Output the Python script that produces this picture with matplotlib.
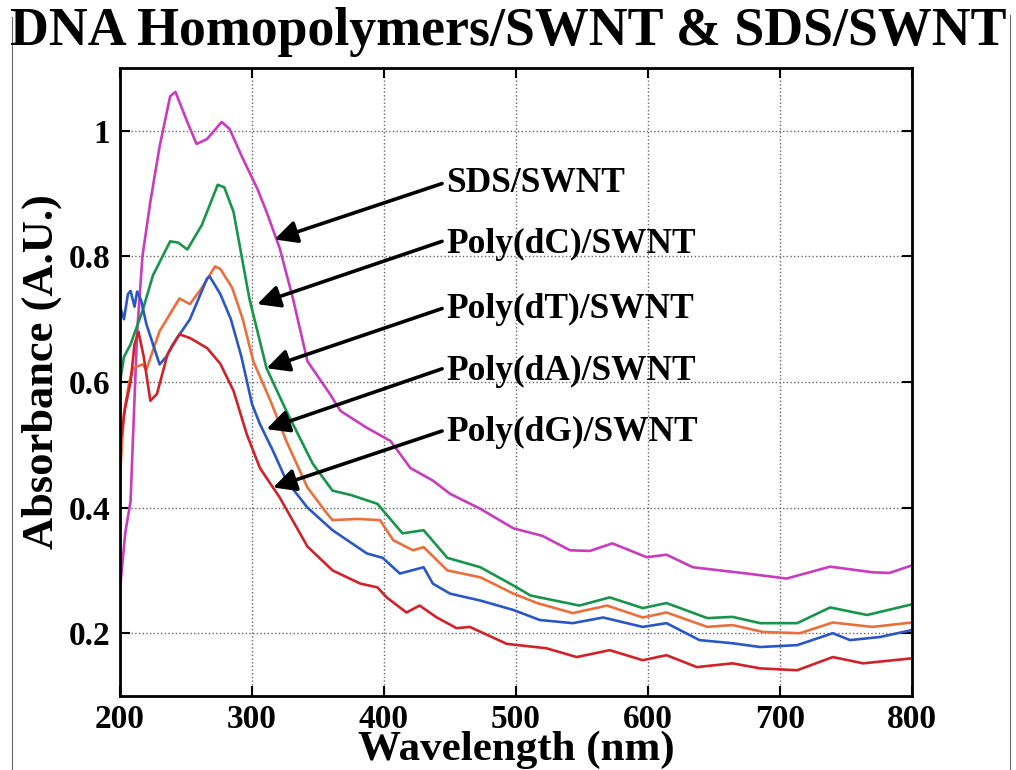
import numpy as np
import matplotlib
matplotlib.use("Agg")
import matplotlib.pyplot as plt
from matplotlib.lines import Line2D

plt.rcParams['font.family'] = ['Liberation Serif', 'DejaVu Serif']
plt.rcParams['font.weight'] = 'bold'

# spectra (wavelength nm, absorbance A.U.)
sds_x = [200, 204, 208, 210, 213, 217, 223, 230, 238, 242, 251, 258, 266, 277, 283, 293,
         304, 311, 321, 331, 342, 359, 367, 387, 405, 420, 437, 450, 473, 498, 520, 541,
         556, 573, 599, 614, 634, 675, 705, 738, 770, 783, 800]
sds_y = [0.27, 0.36, 0.41, 0.52, 0.68, 0.80, 0.887, 0.975, 1.055, 1.062, 1.014, 0.979,
         0.987, 1.014, 1.003, 0.956, 0.908, 0.871, 0.813, 0.733, 0.633, 0.581, 0.554, 0.527,
         0.506, 0.463, 0.443, 0.422, 0.398, 0.367, 0.355, 0.332, 0.331, 0.343, 0.321, 0.325,
         0.305, 0.295, 0.287, 0.306, 0.297, 0.296, 0.308]

dc_x = [200, 203, 208, 217, 225, 238, 244, 251, 262, 274, 279, 286, 298, 311, 326, 346,
        361, 375, 395, 414, 430, 448, 473, 498, 511, 548, 571, 596, 614, 645, 664, 685,
        713, 738, 766, 800]
dc_y = [0.60, 0.64, 0.66, 0.713, 0.77, 0.824, 0.822, 0.811, 0.85, 0.914, 0.91, 0.871,
        0.733, 0.622, 0.554, 0.47, 0.427, 0.42, 0.406, 0.359, 0.364, 0.32, 0.305, 0.276,
        0.26, 0.244, 0.257, 0.24, 0.248, 0.224, 0.226, 0.216, 0.216, 0.241, 0.229, 0.246]

dt_x = [200, 203, 207, 210, 217, 220, 230, 245, 253, 262, 272, 276, 285, 293, 301, 314,
        326, 342, 357, 361, 380, 397, 407, 422, 430, 448, 473, 498, 516, 543, 569, 596,
        614, 645, 664, 687, 715, 740, 770, 800]
dt_y = [0.45, 0.55, 0.60, 0.622, 0.628, 0.62, 0.681, 0.733, 0.724, 0.75, 0.784, 0.78,
        0.75, 0.70, 0.633, 0.57, 0.506, 0.432, 0.39, 0.38, 0.382, 0.38, 0.348, 0.332,
        0.337, 0.30, 0.289, 0.263, 0.248, 0.232, 0.244, 0.225, 0.233, 0.21, 0.213, 0.202,
        0.20, 0.217, 0.21, 0.217]

da_x = [200, 203, 206, 208, 211, 213, 216, 220, 225, 230, 235, 240, 253, 266, 268, 276,
        284, 292, 300, 306, 316, 326, 342, 361, 387, 399, 412, 430, 437, 450, 473, 498,
        518, 543, 566, 596, 614, 639, 664, 685, 713, 740, 753, 776, 800]
da_y = [0.72, 0.70, 0.74, 0.745, 0.72, 0.744, 0.73, 0.692, 0.66, 0.628, 0.64, 0.66,
        0.70, 0.765, 0.768, 0.74, 0.70, 0.64, 0.565, 0.533, 0.49, 0.443, 0.40, 0.364,
        0.327, 0.32, 0.295, 0.305, 0.279, 0.263, 0.252, 0.237, 0.221, 0.216, 0.225, 0.21,
        0.216, 0.189, 0.184, 0.178, 0.181, 0.20, 0.189, 0.194, 0.205]

dg_x = [200, 204, 208, 211, 214, 218, 223, 228, 236, 245, 253, 266, 276, 286, 296, 306,
        321, 342, 361, 382, 395, 402, 417, 427, 440, 455, 465, 493, 523, 546, 571, 596,
        614, 637, 664, 685, 713, 740, 763, 800]
dg_y = [0.50, 0.56, 0.60, 0.66, 0.68, 0.64, 0.57, 0.581, 0.644, 0.676, 0.67, 0.654,
        0.629, 0.586, 0.517, 0.463, 0.416, 0.338, 0.30, 0.279, 0.273, 0.257, 0.233, 0.244,
        0.225, 0.208, 0.21, 0.183, 0.176, 0.162, 0.173, 0.157, 0.165, 0.146, 0.152, 0.144,
        0.141, 0.162, 0.152, 0.16]

labels = ['SDS/SWNT', 'Poly(dC)/SWNT', 'Poly(dT)/SWNT', 'Poly(dA)/SWNT', 'Poly(dG)/SWNT']
colors = ['#C83CBE', '#17954A', '#E9703C', '#2B57C4', '#CF2229']
# label anchor (text start) and arrow head, in data coords
label_pos = [(447, 0.916), (447, 0.819), (447, 0.716), (447, 0.617), (447, 0.519)]
arrow_tail = [(444, 0.916), (444, 0.824), (444, 0.717), (444, 0.621), (444, 0.522)]
arrow_head = [(317, 0.827), (304, 0.724), (311, 0.622), (311, 0.525), (316, 0.432)]

fig = plt.figure(figsize=(10.16, 7.70), dpi=100)
ax = fig.add_axes([120/1016, 1-696/770, 792/1016, 628/770])

series = [(sds_x, sds_y), (dc_x, dc_y), (dt_x, dt_y), (da_x, da_y), (dg_x, dg_y)]
for (xs, ys), c in zip(series, colors):
    ax.plot(xs, ys, color=c, lw=1.9)

ax.set_xlim(200, 800)
ax.set_ylim(0.1, 1.1)
ax.set_xticks([200, 300, 400, 500, 600, 700, 800])
ax.set_yticks([0.2, 0.4, 0.6, 0.8, 1.0])
ax.set_yticklabels(['0.2', '0.4', '0.6', '0.8', '1'])
ax.grid(True, ls=':', color='#666666', lw=1.0)
ax.tick_params(direction='in', length=7, width=1.5, top=True, right=True,
               labelsize=24, pad=7)
ax.tick_params(axis='x', pad=6)
for lab in ax.get_xticklabels() + ax.get_yticklabels():
    lab.set_fontweight('bold')
for sp in ax.spines.values():
    sp.set_linewidth(2)

for lab, pos, tail, head in zip(labels, label_pos, arrow_tail, arrow_head):
    ax.annotate('', xy=head, xytext=tail,
                arrowprops=dict(arrowstyle='-|>', color='k', lw=2.6,
                                mutation_scale=34, shrinkA=0, shrinkB=0))
    ax.text(pos[0], pos[1], lab, fontsize=25.5, fontweight='bold',
            ha='left', va='center')

ax.set_xlabel('Wavelength (nm)', fontsize=31, fontweight='bold')
ax.xaxis.label.set_va('baseline')
ax.xaxis.set_label_coords(0.5, -(760-696)/628)
ax.set_ylabel('Absorbance (A.U.)', fontsize=32, fontweight='bold')
ax.yaxis.label.set_va('center')
ax.yaxis.set_label_coords(-(120-42)/792, (696-372)/628)

fig.text(508/1016, 1-45/770, 'DNA Homopolymers/SWNT & SDS/SWNT', fontsize=38.8,
         fontweight='bold', ha='center', va='baseline')

# thin frame edges around the figure
fig.add_artist(Line2D([12/1016, 12/1016], [0, 1-17/770], color='#666666', lw=0.8))
fig.add_artist(Line2D([1010/1016, 1010/1016], [0, 1-15/770], color='#666666', lw=0.8))

fig.savefig('out.png', dpi=100)
